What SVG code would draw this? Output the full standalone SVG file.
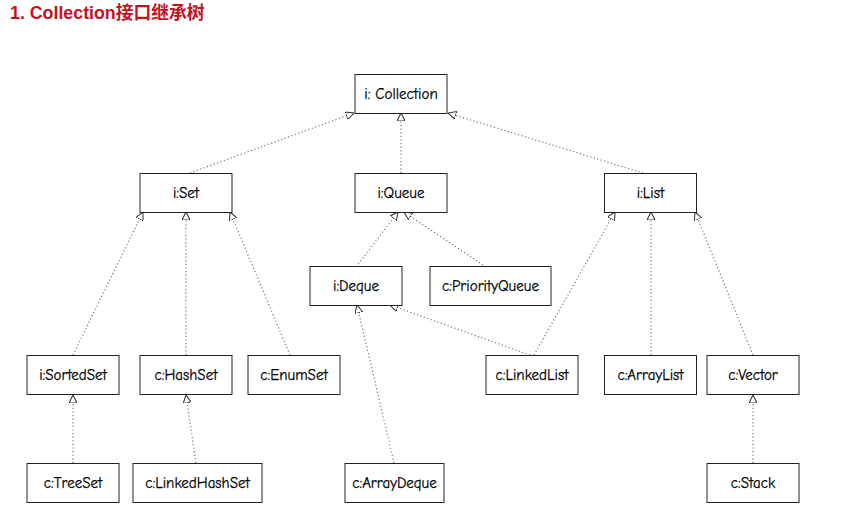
<svg xmlns="http://www.w3.org/2000/svg" width="861" height="519" viewBox="0 0 861 519">
<style>
.t{font-family:"Comic Neue","DejaVu Sans","Liberation Sans",sans-serif;font-size:15px;fill:#000;stroke:#000;stroke-width:0.25;text-anchor:middle;dominant-baseline:central}
.b{fill:#fff;stroke:#222;stroke-width:1}
.e{fill:none;stroke:#777;stroke-width:1.2;stroke-dasharray:1.2 2.4;marker-end:url(#tri)}
.title{font-family:"Liberation Sans","Noto Sans CJK SC",sans-serif;font-weight:bold;font-size:17.8px;fill:#c4121e}
</style>
<defs>
<marker id="tri" viewBox="0 0 10 10" refX="10" refY="5" markerWidth="8" markerHeight="8" markerUnits="userSpaceOnUse" orient="auto">
<path d="M0,0 L10,5 L0,10 z" fill="#fff" stroke="#333" stroke-width="1.3"/>
</marker>
</defs>
<rect width="861" height="519" fill="#fff"/>
<text class="title" x="10" y="19">1. Collection接口继承树</text>
<g id="edges">
<line class="e" x1="190" y1="173" x2="354" y2="113"/>
<line class="e" x1="401" y1="173" x2="401" y2="113"/>
<line class="e" x1="643" y1="173" x2="448" y2="113"/>
<line class="e" x1="73" y1="355" x2="143" y2="212"/>
<line class="e" x1="186" y1="355" x2="186" y2="212"/>
<line class="e" x1="290" y1="355" x2="230" y2="212"/>
<line class="e" x1="356" y1="267" x2="398" y2="212"/>
<line class="e" x1="486" y1="267" x2="404" y2="212"/>
<line class="e" x1="530" y1="355" x2="390" y2="305"/>
<line class="e" x1="534" y1="355" x2="615" y2="212"/>
<line class="e" x1="394" y1="463" x2="357" y2="305"/>
<line class="e" x1="651" y1="355" x2="651" y2="212"/>
<line class="e" x1="753" y1="355" x2="695" y2="212"/>
<line class="e" x1="73" y1="463" x2="73" y2="395"/>
<line class="e" x1="196" y1="463" x2="186" y2="395"/>
<line class="e" x1="753" y1="463" x2="753" y2="395"/>
</g>
<g id="collection"><rect class="b" x="355" y="74.5" width="92" height="39"/><text class="t" x="401" y="94">i: Collection</text></g>
<g id="set"><rect class="b" x="140" y="173.5" width="92" height="39"/><text class="t" x="186" y="193">i:Set</text></g>
<g id="queue"><rect class="b" x="355" y="173.5" width="92" height="39"/><text class="t" x="401" y="193">i:Queue</text></g>
<g id="list"><rect class="b" x="604.5" y="173.5" width="92" height="39"/><text class="t" x="650.5" y="193">i:List</text></g>
<g id="deque"><rect class="b" x="310" y="266.5" width="92" height="39"/><text class="t" x="356" y="286">i:Deque</text></g>
<g id="priorityqueue"><rect class="b" x="430" y="266.5" width="121" height="39"/><text class="t" x="490.5" y="286">c:PriorityQueue</text></g>
<g id="sortedset"><rect class="b" x="27" y="355.5" width="92" height="39"/><text class="t" x="73" y="375">i:SortedSet</text></g>
<g id="hashset"><rect class="b" x="140" y="355.5" width="92" height="39"/><text class="t" x="186" y="375">c:HashSet</text></g>
<g id="enumset"><rect class="b" x="248" y="355.5" width="92" height="39"/><text class="t" x="294" y="375">c:EnumSet</text></g>
<g id="linkedlist"><rect class="b" x="486" y="355.5" width="92" height="39"/><text class="t" x="532" y="375">c:LinkedList</text></g>
<g id="arraylist"><rect class="b" x="604.5" y="355.5" width="92" height="39"/><text class="t" x="650.5" y="375">c:ArrayList</text></g>
<g id="vector"><rect class="b" x="707" y="355.5" width="92" height="39"/><text class="t" x="753" y="375">c:Vector</text></g>
<g id="treeset"><rect class="b" x="27" y="463.5" width="92" height="39"/><text class="t" x="73" y="483">c:TreeSet</text></g>
<g id="linkedhashset"><rect class="b" x="133" y="463.5" width="129" height="39"/><text class="t" x="197.5" y="483">c:LinkedHashSet</text></g>
<g id="arraydeque"><rect class="b" x="345" y="463.5" width="99" height="39"/><text class="t" x="394.5" y="483">c:ArrayDeque</text></g>
<g id="stack"><rect class="b" x="707" y="463.5" width="92" height="39"/><text class="t" x="753" y="483">c:Stack</text></g>
</svg>
